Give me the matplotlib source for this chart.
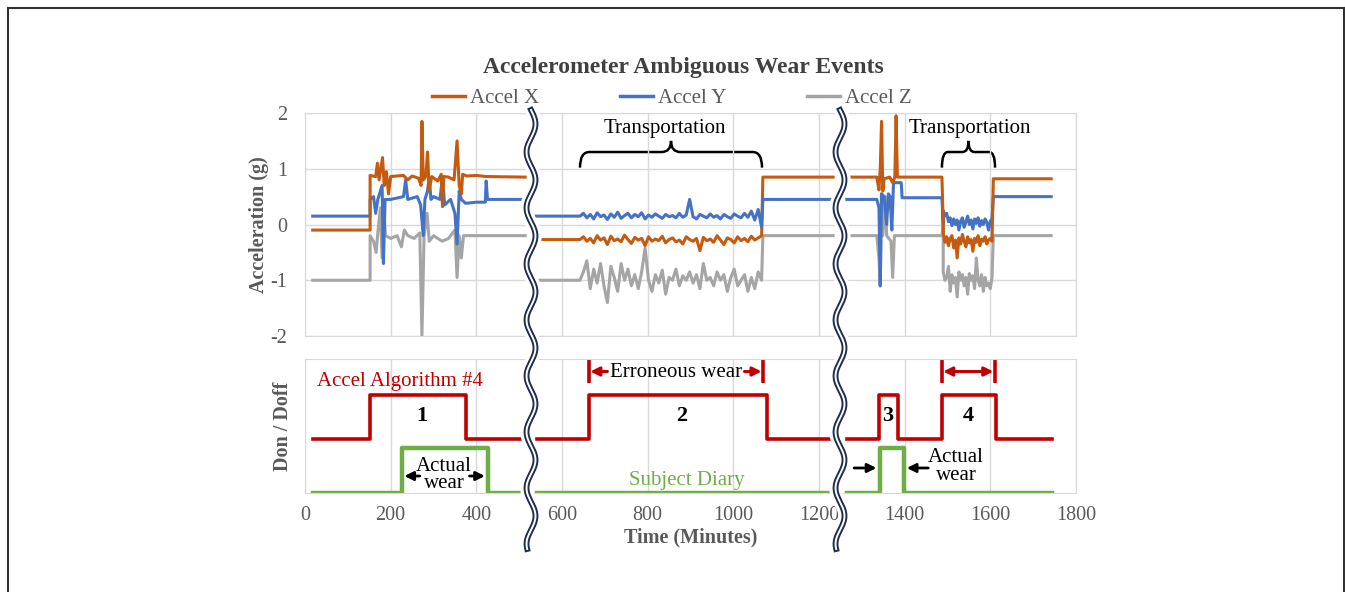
import numpy as np
import matplotlib
matplotlib.use("Agg")
from matplotlib import pyplot as plt
from matplotlib.path import Path
from matplotlib.patches import PathPatch
from matplotlib.lines import Line2D

plt.rcParams['font.family'] = ['Liberation Serif', 'DejaVu Serif']
plt.rcParams['axes.unicode_minus'] = False

# ---------------- data ----------------
# segment 1 (before first break)
x1_t = [18, 152, 152, 165, 169, 173, 181, 185, 190, 195, 200, 230, 240, 250, 265, 271, 273, 276, 282, 286,
        290, 296, 310, 318, 321, 324, 335, 348, 355, 360, 365, 368, 378, 400, 423, 514]
x1_v = [-0.1, -0.1, 0.88, 0.86, 1.1, 0.8, 1.2, 0.7, 0.95, 0.55, 0.86, 0.88, 0.8, 0.87, 0.83, 0.7, 1.85, 0.8, 0.86, 1.3,
        0.62, 0.86, 0.78, 0.9, 0.32, 0.86, 0.85, 0.8, 1.5, 0.7, 0.55, 0.9, 0.87, 0.88, 0.86, 0.85]
y1_t = [18, 152, 152, 160, 165, 170, 180, 183, 187, 200, 230, 235, 240, 262, 270, 276, 280, 286, 290, 294,
        300, 315, 321, 326, 340, 350, 355, 360, 365, 375, 400, 421, 423, 426, 514]
y1_v = [0.15, 0.15, 0.45, 0.5, 0.2, 0.45, 0.7, -0.7, 0.45, 0.45, 0.5, 0.8, 0.45, 0.5, 0.35, -0.2, 0.45, 0.6, 0.85, 0.45,
        0.5, 0.45, 0.85, 0.35, 0.45, 0.2, -0.35, 0.6, 0.45, 0.38, 0.4, 0.4, 0.78, 0.45, 0.45]
z1_t = [18, 152, 152, 160, 166, 170, 176, 180, 184, 188, 200, 215, 225, 232, 240, 255, 268, 273, 278, 285,
        290, 300, 320, 335, 350, 355, 360, 365, 370, 400, 514]
z1_v = [-1.0, -1.0, -0.2, -0.3, -0.5, -0.15, 0.3, -0.6, 0.25, -0.2, -0.25, -0.2, -0.4, -0.1, -0.2, -0.25, -0.15, -2.0, -0.2, 0.2,
        -0.3, -0.2, -0.3, -0.25, -0.1, -0.95, -0.2, -0.6, -0.2, -0.2, -0.2]

# segment 2 (transportation 642 - 1066)
x2_noise = [-0.27, -0.22, -0.30, -0.25, -0.33, -0.20, -0.28, -0.24, -0.36, -0.21, -0.29, -0.26, -0.31, -0.19,
            -0.27, -0.34, -0.23, -0.28, -0.25, -0.38, -0.22, -0.30, -0.26, -0.29, -0.21, -0.33, -0.27, -0.24,
            -0.31, -0.28, -0.35, -0.22, -0.27, -0.30, -0.25, -0.47, -0.23, -0.29, -0.26, -0.32, -0.20, -0.28,
            -0.36, -0.24, -0.27, -0.33, -0.22, -0.29, -0.25, -0.31, -0.21, -0.28, -0.24, -0.20]
y2_noise = [0.15, 0.20, 0.12, 0.18, 0.10, 0.21, 0.14, 0.17, 0.09, 0.19, 0.13, 0.22, 0.11, 0.16, 0.20, 0.12,
            0.18, 0.14, 0.21, 0.10, 0.17, 0.13, 0.19, 0.15, 0.11, 0.18, 0.14, 0.16, 0.12, 0.20, 0.13, 0.17,
            0.45, 0.14, 0.10, 0.18, 0.15, 0.12, 0.19, 0.13, 0.16, 0.10, 0.18, 0.14, 0.11, 0.19, 0.15, 0.12,
            0.20, 0.13, 0.24, 0.08, 0.27, -0.05]
z2_noise = [-1.0, -0.85, -0.65, -1.15, -0.8, -1.05, -0.7, -1.1, -1.4, -0.75, -0.95, -1.2, -0.7, -1.0, -0.8,
            -1.1, -0.9, -1.15, -0.85, -0.42, -1.0, -1.2, -0.9, -1.05, -0.82, -1.25, -0.95, -1.0, -0.8, -1.1,
            -0.92, -1.0, -0.85, -1.05, -0.9, -1.15, -0.7, -1.0, -0.95, -1.1, -0.85, -1.0, -0.9, -1.2, -0.95,
            -0.8, -1.1, -1.0, -0.9, -1.2, -0.95, -1.15, -0.85, -1.0]
seg2_start, trans2_start, trans2_end, seg2_end = 539, 642, 1066, 1233
x2_before, x2_after = -0.27, 0.85
y2_before, y2_after = 0.15, 0.45
z2_before, z2_after = -1.0, -0.2

# segment 3 (after second break)
x3_t = [1265, 1335, 1340, 1343, 1346, 1349, 1352, 1365, 1372, 1377, 1380, 1383, 1487]
x3_v = [0.85, 0.85, 0.62, 1.0, 1.85, 0.6, 0.82, 0.85, 0.75, 0.85, 1.95, 0.85, 0.85]
y3_t = [1265, 1335, 1340, 1343, 1346, 1352, 1358, 1362, 1366, 1370, 1374, 1392, 1394, 1487]
y3_v = [0.45, 0.45, 0.3, -1.1, 0.55, 0.5, 0.0, 0.55, 0.5, -0.1, 0.75, 0.75, 0.48, 0.48]
z3_t = [1265, 1335, 1340, 1343, 1346, 1349, 1355, 1358, 1368, 1372, 1376, 1487]
z3_v = [-0.2, -0.2, -0.6, -1.1, 0.55, -0.2, 0.5, -0.2, -0.3, -0.95, -0.2, -0.2]
x3_noise = [-0.15, -0.32, -0.22, -0.38, -0.25, -0.20, -0.42, -0.28, -0.60, -0.24, -0.35, -0.18, -0.30, -0.40,
            -0.22, -0.33, -0.27, -0.48, -0.25, -0.32, -0.20, -0.38, -0.26, -0.30, -0.22, -0.35, -0.28, -0.25, -0.30]
y3_noise = [0.25, 0.15, 0.20, 0.05, 0.12, -0.02, 0.10, 0.0, 0.08, -0.1, 0.06, 0.12, -0.05, 0.05, 0.15, 0.0,
            0.08, -0.08, 0.1, 0.02, 0.12, -0.03, 0.07, 0.0, 0.1, 0.04, -0.1, 0.06, 0.1]
z3_noise = [-0.85, -1.0, -0.95, -0.75, -1.2, -0.9, -1.05, -0.95, -1.3, -0.85, -1.0, -0.9, -1.1, -0.95, -1.25,
            -0.88, -1.0, -0.92, -1.15, -0.6, -1.0, -1.1, -0.9, -1.2, -0.95, -1.1, -1.05, -1.15, -0.95]
trans3_start, trans3_end, seg3_end = 1490, 1604, 1742
x3_after, y3_after, z3_after = 0.82, 0.5, -0.2

# bottom panel: don / doff
algo_t = [[18, 152, 152, 376, 376, 518],
          [542, 663, 663, 1079, 1079, 1235],
          [1265, 1340, 1340, 1385, 1385, 1487, 1487, 1613, 1613, 1744]]
algo_v = [[1.2, 1.2, 2.2, 2.2, 1.2, 1.2],
          [1.2, 1.2, 2.2, 2.2, 1.2, 1.2],
          [1.2, 1.2, 2.2, 2.2, 1.2, 1.2, 2.2, 2.2, 1.2, 1.2]]
diary_t = [[18, 226, 226, 427, 427, 518],
           [542, 1235],
           [1265, 1343, 1343, 1398, 1398, 1744]]
diary_v = [[0, 0, 1, 1, 0, 0],
           [0, 0],
           [0, 0, 1, 1, 0, 0]]
event_labels = ['1', '2', '3', '4']
event_x = [273, 880, 1361, 1548]

c_x, c_y, c_z = '#C55A11', '#4472C4', '#A5A5A5'
c_red, c_green = '#C00000', '#70AD47'
grid_c = '#D9D9D9'
txt_c = '#595959'

# ---------------- figure ----------------
W, H = 1345, 592
fig = plt.figure(figsize=(W / 100, H / 100), dpi=100)
ax1 = fig.add_axes([305 / W, 1 - 336 / H, 771 / W, 223 / H])
ax2 = fig.add_axes([305 / W, 1 - 493 / H, 771 / W, 134 / H])


def seg_with_noise(t0, ts, te, t1, before, noise, after):
    tn = np.linspace(ts, te, len(noise))
    t = [t0, ts] + list(tn) + [te + 3, t1]
    v = [before, before] + list(noise) + [after, after]
    return t, v


lw = 2.2
# segment 1
ax1.plot(z1_t, z1_v, color=c_z, lw=lw)
ax1.plot(y1_t, y1_v, color=c_y, lw=lw)
ax1.plot(x1_t, x1_v, color=c_x, lw=lw)
# segment 2
t, v = seg_with_noise(seg2_start, trans2_start, trans2_end, seg2_end, z2_before, z2_noise, z2_after)
ax1.plot(t, v, color=c_z, lw=lw)
t, v = seg_with_noise(seg2_start, trans2_start, trans2_end, seg2_end, x2_before, x2_noise, x2_after)
ax1.plot(t, v, color=c_x, lw=lw)
t, v = seg_with_noise(seg2_start, trans2_start, trans2_end, seg2_end, y2_before, y2_noise, y2_after)
ax1.plot(t, v, color=c_y, lw=lw)
# segment 3
t, v = seg_with_noise(0, trans3_start, trans3_end, seg3_end, 0, z3_noise, z3_after)
ax1.plot(z3_t + t[1:], z3_v + v[1:], color=c_z, lw=lw)
t, v = seg_with_noise(0, trans3_start, trans3_end, seg3_end, 0, y3_noise, y3_after)
ax1.plot(y3_t + t[1:], y3_v + v[1:], color=c_y, lw=lw)
t, v = seg_with_noise(0, trans3_start, trans3_end, seg3_end, 0, x3_noise, x3_after)
ax1.plot(x3_t + t[1:], x3_v + v[1:], color=c_x, lw=lw)

ax1.set_xlim(0, 1800)
ax1.set_ylim(-2, 2)
ax1.set_xticks(range(0, 1801, 200))
ax1.set_yticks([-2, -1, 0, 1, 2])
ax1.tick_params(axis='x', length=0, labelbottom=False)
ax1.tick_params(axis='y', length=0, pad=13, labelsize=14.5, labelcolor=txt_c)
ax1.grid(True, color=grid_c, lw=1)
for s in ax1.spines.values():
    s.set_color(grid_c)
ax1.set_ylabel('Acceleration (g)', fontsize=14.5, fontweight='bold', color=txt_c, va='center')
ax1.yaxis.set_label_coords(-0.060, 0.5)

# legend handles
handles = [Line2D([], [], color=c, lw=2.5) for c in (c_x, c_y, c_z)]
fig.legend(handles, ['Accel X', 'Accel Y', 'Accel Z'], loc='center', bbox_to_anchor=(672 / W, 1 - 98 / H),
           ncol=3, frameon=False, fontsize=15, handlelength=1.55, handletextpad=0.25, columnspacing=3.9,
           labelcolor=txt_c)
fig.text(683 / W, 1 - 67 / H, 'Accelerometer Ambiguous Wear Events', ha='center', va='center',
         fontsize=17, fontweight='bold', color='#404040')


def brace(ax, x0, x1, y_end, y_bar, y_tip, r):
    xm = (x0 + x1) / 2
    verts = [(x0, y_end), (x0, y_bar), (x0 + r, y_bar), (xm - r, y_bar), (xm, y_bar), (xm, y_tip),
             (xm, y_bar), (xm + r, y_bar), (x1 - r, y_bar), (x1, y_bar), (x1, y_end)]
    codes = [Path.MOVETO, Path.CURVE3, Path.CURVE3, Path.LINETO, Path.CURVE3, Path.CURVE3,
             Path.CURVE3, Path.CURVE3, Path.LINETO, Path.CURVE3, Path.CURVE3]
    ax.add_patch(PathPatch(Path(verts, codes), fill=False, color='black', lw=1.8))


brace(ax1, 642, 1067, 1.02, 1.3, 1.5, 22)
brace(ax1, 1487, 1611, 1.02, 1.3, 1.5, 14)
ax1.text(840, 1.72, 'Transportation', ha='center', va='center', fontsize=15)
ax1.text(1553, 1.72, 'Transportation', ha='center', va='center', fontsize=15)

# ---------------- bottom panel ----------------
for tt, vv in zip(algo_t, algo_v):
    ax2.plot(tt, vv, color=c_red, lw=2.6)
for tt, vv in zip(diary_t, diary_v):
    ax2.plot(tt, vv, color=c_green, lw=3.2)
for lab, xx in zip(event_labels, event_x):
    ax2.text(xx, 1.72, lab, ha='center', va='center', fontsize=16, fontweight='bold')

ax2.set_xlim(0, 1800)
ax2.set_ylim(0, 3)
ax2.set_xticks(range(0, 1801, 200))
ax2.set_yticks([])
ax2.tick_params(axis='x', length=0, pad=16, labelsize=14.5, labelcolor=txt_c)
for lbl in ax2.get_xticklabels():
    lbl.set_va('center')
ax2.grid(True, axis='x', color=grid_c, lw=1)
for s in ax2.spines.values():
    s.set_color(grid_c)
ax2.set_xlabel('Time (Minutes)', fontsize=14.5, fontweight='bold', color=txt_c)
ax2.xaxis.set_label_coords(0.5, -(537 - 493) / 134)
ax2.xaxis.label.set_va('center')
ax2.set_ylabel('Don / Doff', fontsize=14.5, fontweight='bold', color=txt_c, va='center')
ax2.yaxis.set_label_coords(-0.0285, 0.5)

ax2.text(222, 2.5, 'Accel Algorithm #4', ha='center', va='center', fontsize=15, color=c_red)
ax2.text(891, 0.27, 'Subject Diary', ha='center', va='center', fontsize=15, color=c_green)
ax2.text(325, 0.4, 'Actual\nwear', ha='center', va='center', fontsize=15, linespacing=0.9)
ax2.text(1520, 0.6, 'Actual\nwear', ha='center', va='center', fontsize=15, linespacing=0.9)
ax2.text(866, 2.7, 'Erroneous wear', ha='center', va='center', fontsize=15)

blk = dict(arrowstyle='-|>', color='black', lw=2, mutation_scale=13, shrinkA=0, shrinkB=0)
red = dict(arrowstyle='-|>', color=c_red, lw=2.2, mutation_scale=13, shrinkA=0, shrinkB=0)
ax2.annotate('', xy=(232, 0.38), xytext=(268, 0.38), arrowprops=blk)
ax2.annotate('', xy=(420, 0.38), xytext=(384, 0.38), arrowprops=blk)
ax2.annotate('', xy=(1334, 0.56), xytext=(1282, 0.56), arrowprops=blk)
ax2.annotate('', xy=(1405, 0.56), xytext=(1455, 0.56), arrowprops=blk)
ax2.annotate('', xy=(666, 2.72), xytext=(706, 2.72), arrowprops=red)
ax2.annotate('', xy=(1066, 2.72), xytext=(1026, 2.72), arrowprops=red)
ax2.annotate('', xy=(1490, 2.72), xytext=(1550, 2.72), arrowprops=red)
ax2.annotate('', xy=(1607, 2.72), xytext=(1550, 2.72), arrowprops=red)
for xx in (663, 1069, 1487, 1610):
    ax2.plot([xx, xx], [2.46, 2.98], color=c_red, lw=2.6, solid_capstyle='butt')

# ---------------- axis break squiggles ----------------
ys = np.linspace(110, 549, 400)
for xc in (531, 840):
    xs = xc + 4.5 * np.sin(2 * np.pi * (ys - 110) / 56)
    fx, fy = xs / W, 1 - ys / H
    fig.add_artist(Line2D(fx, fy, color='white', lw=9, transform=fig.transFigure))
    fig.add_artist(Line2D(fx, fy, color='#1F2D4E', lw=4.2, transform=fig.transFigure))
    fig.add_artist(Line2D(fx, fy, color='white', lw=1.4, transform=fig.transFigure))

# outer frame
fr = dict(color='#333333', lw=1.5, transform=fig.transFigure)
fig.add_artist(Line2D([8 / W, 8 / W], [0, 1 - 8 / H], **fr))
fig.add_artist(Line2D([8 / W, 1344 / W], [1 - 8 / H, 1 - 8 / H], **fr))
fig.add_artist(Line2D([1344 / W, 1344 / W], [0, 1 - 8 / H], **fr))

fig.savefig('out.png', dpi=100)
